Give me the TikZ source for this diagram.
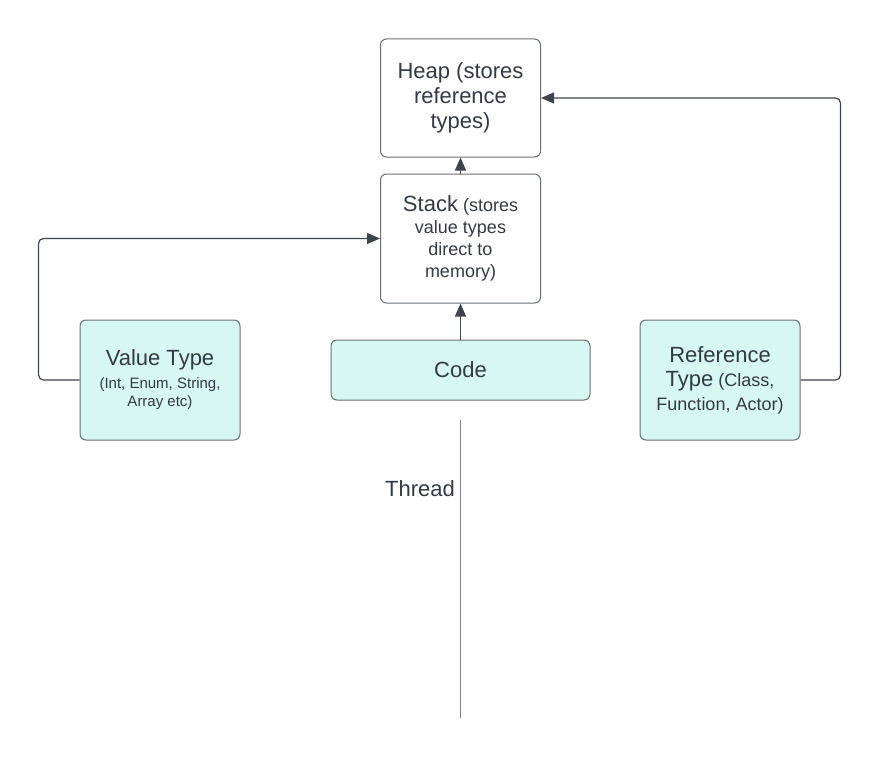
\documentclass[tikz,border=0pt]{standalone}
\usepackage{fontspec}
\setmainfont{Liberation Sans}
\usetikzlibrary{arrows.meta,positioning}
\definecolor{mint}{HTML}{D7F8F2}
\definecolor{ink}{HTML}{333A44}
\definecolor{edgegray}{HTML}{6A6F76}
\definecolor{wiregray}{HTML}{3E444D}
\definecolor{threadgray}{HTML}{7C8086}
\newcommand{\szmain}[1][26]{\fontsize{22}{#1}\selectfont}
\newcommand{\szsub}[1][22]{\fontsize{18}{#1}\selectfont}
\newcommand{\szsmall}{\fontsize{15}{18}\selectfont}
\begin{document}
\begin{tikzpicture}[x=1pt, y=-1pt,
	box/.style = {draw=edgegray, line width=1pt, rounded corners=6pt, align=center, text=ink, inner sep=0pt},
	cyanbox/.style = {box, fill=mint},
	wire/.style = {draw=wiregray, line width=1.2pt, rounded corners=5pt, -{Triangle[length=13pt,width=11pt]}}]
	\useasboundingbox (0,0) rectangle (881,760);
	\node[cyanbox, minimum width=259pt, minimum height=60pt, font=\szmain] (code) at (460.5,370) {Code};
	\node[box, minimum width=160pt, minimum height=129pt, above=36pt of code, font=\szsub] (stack) {{\szmain Stack} (stores\\value types\\direct to\\memory)};
	\node[box, minimum width=160pt, minimum height=118pt, above=16pt of stack, font={\szmain[25]}] (heap) {Heap (stores\\reference\\types)};
	\node[cyanbox, minimum width=160pt, minimum height=120pt, font=\szsmall] (valuetype) at (160,380) {{\szmain Value Type}\\[5pt](Int, Enum, String,\\Array etc)};
	\node[cyanbox, minimum width=160pt, minimum height=120pt, font={\szsub[24]}] (reftype) at (720,380) {{\szmain Reference}\\{\szmain Type} (Class,\\Function, Actor)};
	\coordinate (threadtop) at (460.5,420);
	\coordinate (threadend) at (460.5,718);
	\draw[draw=threadgray, line width=1.2pt] (threadtop) -- node[pos=0.23, left, inner sep=5pt, text=ink, font=\szmain] {Thread} (threadend);
	\draw[wire] (code.north) -- (stack.south);
	\draw[wire] (stack.north) -- (heap.south);
	\draw[wire] (valuetype.west) -- ++(-41,0) |- (stack.west);
	\draw[wire] (reftype.east) -- ++(40,0) |- (heap.east);
\end{tikzpicture}
\end{document}
